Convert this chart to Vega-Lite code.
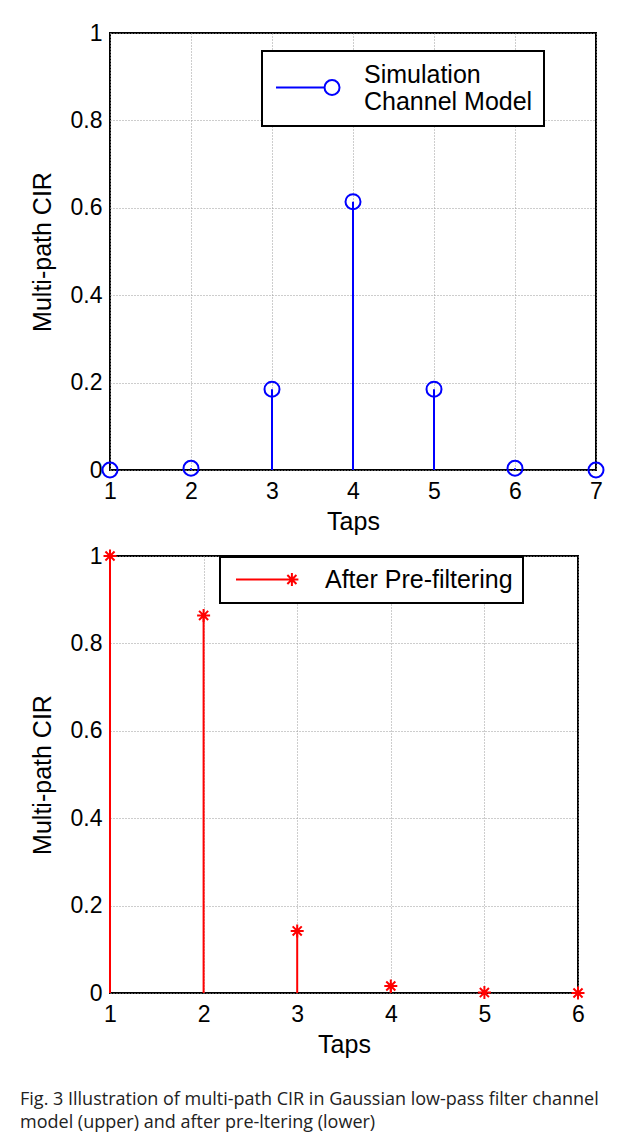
{
  "$schema": "https://vega.github.io/schema/vega-lite/v6.json",
  "padding": {"left": 20, "top": 21, "right": 0, "bottom": 0},
  "background": "white",
  "datasets": {
    "upper": [
      {"tap": 1, "cir": 0.0, "series": "Simulation Channel Model"},
      {"tap": 2, "cir": 0.004, "series": "Simulation Channel Model"},
      {"tap": 3, "cir": 0.185, "series": "Simulation Channel Model"},
      {"tap": 4, "cir": 0.614, "series": "Simulation Channel Model"},
      {"tap": 5, "cir": 0.185, "series": "Simulation Channel Model"},
      {"tap": 6, "cir": 0.004, "series": "Simulation Channel Model"},
      {"tap": 7, "cir": 0.0, "series": "Simulation Channel Model"}
    ],
    "lower": [
      {"tap": 1, "cir": 1.0, "series": "After Pre-filtering"},
      {"tap": 2, "cir": 0.864, "series": "After Pre-filtering"},
      {"tap": 3, "cir": 0.142, "series": "After Pre-filtering"},
      {"tap": 4, "cir": 0.016, "series": "After Pre-filtering"},
      {"tap": 5, "cir": 0.001, "series": "After Pre-filtering"},
      {"tap": 6, "cir": 0.0, "series": "After Pre-filtering"}
    ]
  },
  "title": {
    "text": ["Fig. 3 Illustration of multi-path CIR in Gaussian low-pass filter channel", "model (upper) and after pre-ltering (lower)"],
    "orient": "bottom",
    "anchor": "start",
    "frame": "bounds",
    "dx": -9,
    "font": "Open Sans",
    "fontSize": 18,
    "fontWeight": "normal",
    "color": "#222222",
    "lineHeight": 23,
    "offset": 33
  },
  "spacing": 9,
  "resolve": {"scale": {"color": "independent"}, "legend": {"color": "independent"}},
  "vconcat": [
    {
      "width": 486,
      "height": 437,
      "data": {"name": "upper"},
      "layer": [
        {
          "mark": {"type": "rule", "color": "#0000ff", "strokeWidth": 2},
          "encoding": {
            "x": {"field": "tap", "type": "quantitative"},
            "y": {"field": "cir", "type": "quantitative"},
            "y2": {"datum": 0}
          }
        },
        {
          "mark": {"type": "point", "shape": "circle", "size": 225, "filled": false, "strokeWidth": 2, "opacity": 1},
          "encoding": {
            "x": {"field": "tap", "type": "quantitative", "title": "Taps",
              "scale": {"domain": [1, 7], "nice": false, "zero": false},
              "axis": {"values": [1, 2, 3, 4, 5, 6, 7], "format": "d"}},
            "y": {"field": "cir", "type": "quantitative", "title": "Multi-path CIR",
              "scale": {"domain": [0, 1], "nice": false},
              "axis": {"values": [0, 0.2, 0.4, 0.6, 0.8, 1], "format": "~g"}},
            "color": {"field": "series", "type": "nominal",
              "scale": {"domain": ["Simulation Channel Model"], "range": ["#0000ff"]},
              "legend": {
                "title": null, "orient": "none", "legendX": 152, "legendY": 18,
                "symbolType": "M-1,1.73L5.47,1.73M7.47,1.73A1,1,0,1,1,5.47,1.73A1,1,0,1,1,7.47,1.73",
                "symbolSize": 225, "symbolStrokeWidth": 2, "symbolOffset": -2,
                "labelOffset": 68, "padding": 11,
                "labelExpr": "['Simulation', 'Channel Model']",
                "labelFont": "Liberation Sans", "labelFontSize": 25, "labelColor": "black", "labelLimit": 0,
                "fillColor": "white", "strokeColor": "black"
              }}
          }
        }
      ]
    },
    {
      "width": 468,
      "height": 437,
      "data": {"name": "lower"},
      "layer": [
        {
          "mark": {"type": "rule", "color": "#ff0000", "strokeWidth": 2},
          "encoding": {
            "x": {"field": "tap", "type": "quantitative"},
            "y": {"field": "cir", "type": "quantitative"},
            "y2": {"datum": 0}
          }
        },
        {
          "mark": {"type": "point", "shape": "M0,-1V1M-1,0H1M-0.7,-0.7L0.7,0.7M-0.7,0.7L0.7,-0.7", "size": 169, "filled": false, "strokeWidth": 2, "opacity": 1},
          "encoding": {
            "x": {"field": "tap", "type": "quantitative", "title": "Taps",
              "scale": {"domain": [1, 6], "nice": false, "zero": false},
              "axis": {"values": [1, 2, 3, 4, 5, 6], "format": "d"}},
            "y": {"field": "cir", "type": "quantitative", "title": "Multi-path CIR",
              "scale": {"domain": [0, 1], "nice": false},
              "axis": {"values": [0, 0.2, 0.4, 0.6, 0.8, 1], "format": "~g"}},
            "color": {"field": "series", "type": "nominal",
              "scale": {"domain": ["After Pre-filtering"], "range": ["#ff0000"]},
              "legend": {
                "title": null, "orient": "none", "legendX": 110, "legendY": 1,
                "symbolType": "M-1,0L7.6,0M7.6,-1V1M6.6,0H8.6M6.9,-0.7L8.3,0.7M6.9,0.7L8.3,-0.7",
                "symbolSize": 169, "symbolStrokeWidth": 2, "symbolOffset": 0,
                "labelOffset": 70, "padding": 10,
                "labelFont": "Liberation Sans", "labelFontSize": 25, "labelColor": "black", "labelLimit": 0,
                "fillColor": "white", "strokeColor": "black"
              }}
          }
        }
      ]
    }
  ],
  "config": {
    "view": {"stroke": "black", "strokeWidth": 2},
    "legend": {"strokeWidth": 2},
    "axis": {
      "domain": false,
      "ticks": false,
      "grid": true,
      "gridColor": "#9a9a9a",
      "gridDash": [1, 2],
      "gridWidth": 1,
      "labelFont": "Liberation Sans",
      "labelFontSize": 23,
      "labelColor": "black",
      "labelOverlap": false,
      "labelFlush": false,
      "titleFont": "Liberation Sans",
      "titleFontSize": 25,
      "titleFontWeight": "normal",
      "titleColor": "black"
    },
    "axisX": {"labelPadding": 10, "titlePadding": 6},
    "axisY": {"labelPadding": 8, "titlePadding": 15}
  }
}
